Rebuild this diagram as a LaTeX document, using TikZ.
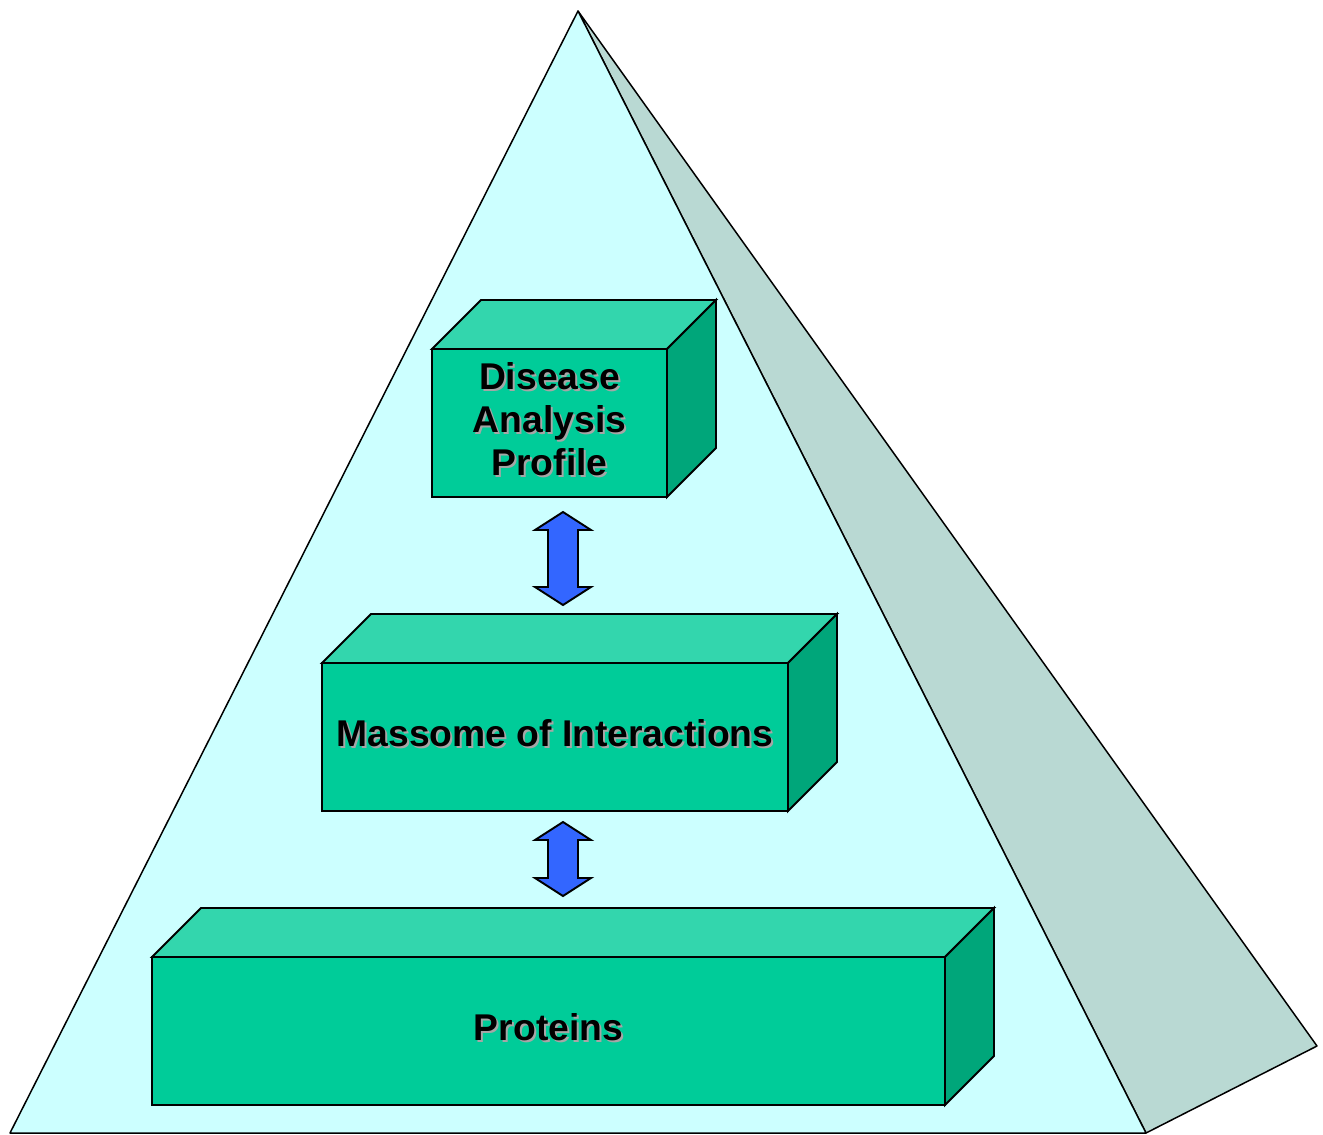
\documentclass[tikz,border=0pt]{standalone}
\usepackage{fontspec}
\setmainfont{Liberation Sans}

\definecolor{pyrfront}{HTML}{CCFFFF}
\definecolor{pyrside}{HTML}{B9D9D3}
\definecolor{boxfront}{HTML}{00CC99}
\definecolor{boxtop}{HTML}{33D6AD}
\definecolor{boxside}{HTML}{00A67A}
\definecolor{arrowblue}{HTML}{3366FF}

\tikzset{
  face/.style={draw=black, line width=1.1pt, line join=miter},
  lbl/.style={font=\fontsize{21.2}{24.5}\selectfont\bfseries, align=center, inner sep=0pt},
  updown/.style={draw=black, fill=arrowblue, line width=1.1pt, line join=miter}
}

% name, front top-left x,y, front bottom-right x,y, text
\newcommand{\cubebox}[6]{%
  \draw[face, fill=boxtop] (#2,#3) -- ++(49,-49) -- (#4+49,#3-49) -- (#4,#3) -- cycle;
  \draw[face, fill=boxside] (#4,#3) -- (#4+49,#3-49) -- (#4+49,#5-49) -- (#4,#5) -- cycle;
  \draw[face, fill=boxfront] (#2,#3) rectangle (#4,#5);
  \node[lbl, text=gray!70] at ({(#2+#4)/2+2},{(#3+#5)/2-2}) {#6};
  \node[lbl] (#1) at ({(#2+#4)/2},{(#3+#5)/2-4}) {#6};
}

% x, top tip y, bottom tip y
\newcommand{\linkarrow}[3]{%
  \draw[updown] (#1,#2) -- (#1+28,#2+18) -- (#1+15,#2+18) -- (#1+15,#3-18)
    -- (#1+28,#3-18) -- (#1,#3) -- (#1-28,#3-18) -- (#1-15,#3-18)
    -- (#1-15,#2+18) -- (#1-28,#2+18) -- cycle;
}

\begin{document}
\begin{tikzpicture}[x=0.02cm, y=-0.02cm]
  \useasboundingbox (0,0) rectangle (1323,1134);

  % pyramid
  \coordinate (apex) at (578,11);
  \coordinate (baseleft) at (10,1133);
  \coordinate (baseright) at (1146,1133);
  \coordinate (backright) at (1317,1046);
  \draw[fill=pyrside, line width=0.85pt, line join=round] (apex) -- (backright) -- (baseright) -- cycle;
  \draw[fill=pyrfront, line width=0.85pt, line join=round] (apex) -- (baseright) -- (baseleft) -- cycle;

  % levels
  \cubebox{profile}{432}{349}{667}{497}{Disease\\Analysis\\Profile}
  \cubebox{massome}{322}{663}{788}{811}{Massome of Interactions}
  \cubebox{proteins}{152}{957}{945}{1105}{Proteins}

  % links
  \linkarrow{563}{512}{605}
  \linkarrow{563}{822}{896}
\end{tikzpicture}
\end{document}
